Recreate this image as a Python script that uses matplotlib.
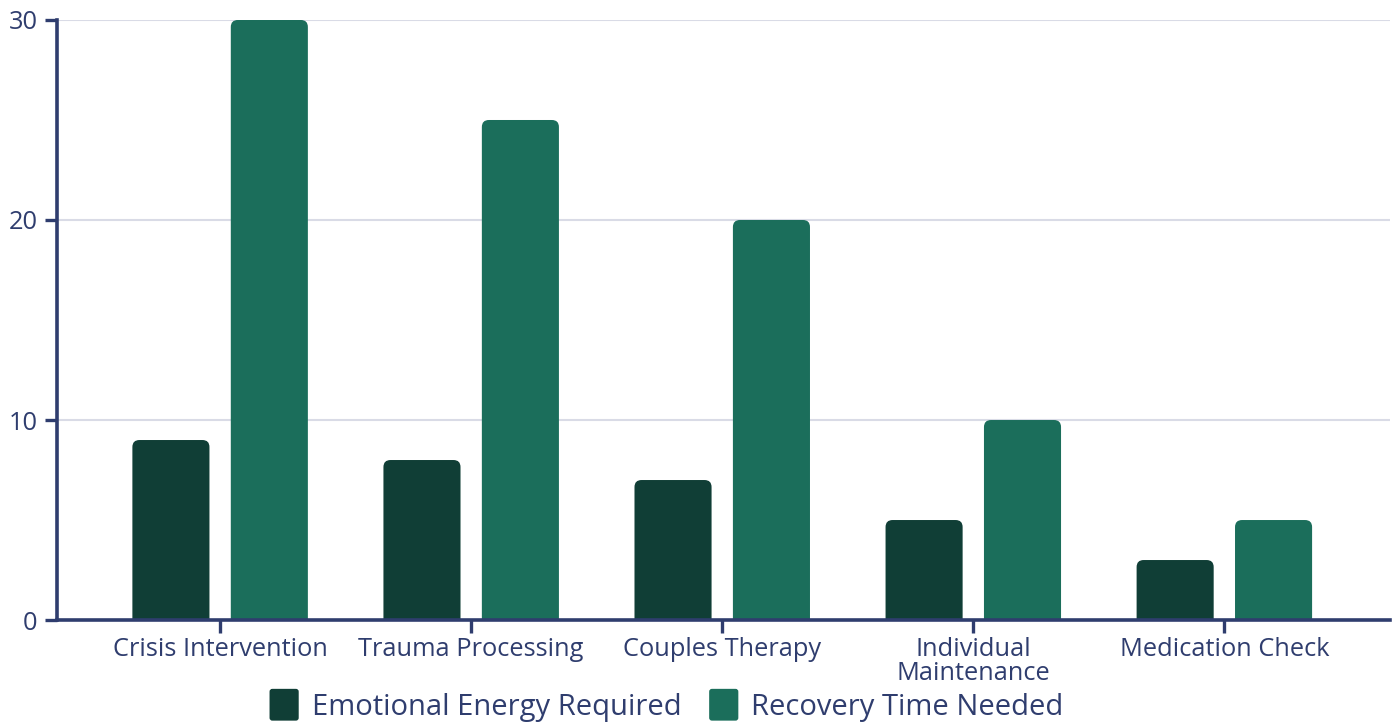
import numpy as np
import matplotlib
matplotlib.use("Agg")
import matplotlib.pyplot as plt
from matplotlib.patches import FancyBboxPatch
from matplotlib.legend_handler import HandlerPatch

# data
categories = ["Crisis Intervention", "Trauma Processing", "Couples Therapy",
              "Individual\nMaintenance", "Medication Check"]
energy_required = [9, 8, 7, 5, 3]
recovery_time = [30, 25, 20, 10, 5]
series_names = ["Emotional Energy Required", "Recovery Time Needed"]

DARK = "#103e36"
TEAL = "#1b6e5b"
NAVY = "#2f3d6e"
GRID = "#d9dbe6"

plt.rcParams["font.family"] = ["Open Sans", "DejaVu Sans"]

fig = plt.figure(figsize=(13.99, 7.24), dpi=100)
ax = fig.add_axes([0.0407, 0.1436, 0.9529, 0.8288])

x = np.arange(len(categories))
bar_w = 0.307
offset = 0.196
xlim = (-0.65, 4.66)
ylim = (0, 30)
ax.set_xlim(*xlim)
ax.set_ylim(*ylim)

# aspect between y and x data units in screen space, for round corners
bbox = ax.get_position()
w_px = bbox.width * fig.get_figwidth()
h_px = bbox.height * fig.get_figheight()
aspect = ((ylim[1] - ylim[0]) / h_px) / ((xlim[1] - xlim[0]) / w_px)
radius = 0.028


def rounded_bars(xs, vals, color):
    for xi, v in zip(xs, vals):
        p = FancyBboxPatch((xi - bar_w / 2, -1), bar_w, v + 1,
                           boxstyle=f"round,pad=0,rounding_size={radius}",
                           mutation_aspect=aspect, fc=color, ec="none",
                           zorder=2)
        ax.add_patch(p)


rounded_bars(x - offset, energy_required, DARK)
rounded_bars(x + offset, recovery_time, TEAL)

ax.set_yticks([0, 10, 20, 30])
ax.set_xticks(x)
ax.set_xticklabels(categories, linespacing=0.98)
ax.yaxis.grid(True, color=GRID, linewidth=1.5, zorder=0)
ax.set_axisbelow(True)

for s in ["top", "right"]:
    ax.spines[s].set_visible(False)
for s in ["left", "bottom"]:
    ax.spines[s].set_color(NAVY)
    ax.spines[s].set_linewidth(2.6)
    ax.spines[s].set_zorder(3)
ax.tick_params(axis="both", colors=NAVY, width=2.4, length=9, labelsize=18.3)
ax.tick_params(axis="y", pad=5)
ax.tick_params(axis="x", pad=3)


class RoundHandler(HandlerPatch):
    def create_artists(self, legend, orig_handle, xdescent, ydescent,
                       width, height, fontsize, trans):
        p = FancyBboxPatch((-xdescent, -ydescent), width, height,
                           boxstyle="round,pad=0,rounding_size=2",
                           fc=orig_handle.get_facecolor(), ec="none",
                           transform=trans)
        return [p]


handles = [FancyBboxPatch((0, 0), 1, 1, fc=DARK), FancyBboxPatch((0, 0), 1, 1, fc=TEAL)]
leg = fig.legend(handles, series_names, loc="center", bbox_to_anchor=(0.4765, 0.026),
                 ncol=2, frameon=False, fontsize=21, handlelength=1.0,
                 handleheight=1.3, handletextpad=0.45, columnspacing=0.95,
                 handler_map={FancyBboxPatch: RoundHandler()})
for t in leg.get_texts():
    t.set_color(NAVY)

fig.savefig("out.png", dpi=100)
